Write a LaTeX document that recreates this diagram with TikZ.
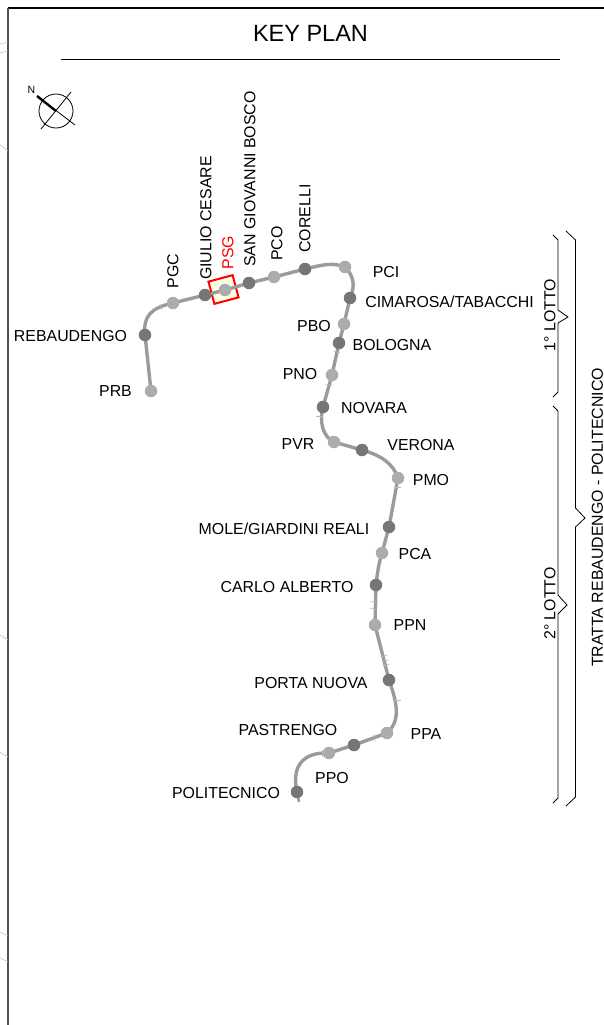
\documentclass[tikz,border=0pt]{standalone}
\usepackage{fontspec}
\setmainfont{Liberation Sans}
\pgfdeclarelayer{boxlayer}
\pgfdeclarelayer{linelayer}
\pgfsetlayers{boxlayer,linelayer,main}
\definecolor{lightst}{RGB}{172,172,172}
\definecolor{darkst}{RGB}{118,118,118}
\definecolor{route}{RGB}{155,155,155}
\definecolor{faint}{RGB}{195,195,195}
\definecolor{tickc}{RGB}{185,185,185}
\definecolor{boxfill}{RGB}{255,255,232}
\tikzset{
  x=1pt,y=-1pt,
  lst/.style={circle,fill=lightst,minimum size=12.5pt,inner sep=0pt},
  dst/.style={circle,fill=darkst,minimum size=12.5pt,inner sep=0pt},
  lab/.style={font=\fontsize{15.9}{16}\selectfont,inner sep=0pt,text=black},
  hlab/.style={lab,yshift=-0.5pt},
  vlab/.style={lab,rotate=90},
  routeline/.style={draw=route,line width=3.4pt},
  tick/.style={draw=tickc,line width=0.6pt},
  brace/.style={draw=black,line width=0.8pt},
  frame/.style={line width=1.3pt},
  faintline/.style={draw=faint,line width=0.6pt}
}
\begin{document}
\begin{tikzpicture}
\useasboundingbox (0,0) rectangle (604,1025);
% frame
\coordinate (ftl) at (8,8);
\coordinate (ftr) at (604,8);
\coordinate (fbl) at (8,1025);
\draw[frame,black] (ftl) -- (ftr);
\draw[frame,draw={rgb,255:red,80;green,80;blue,80},line width=1.5pt] (ftl) -- (fbl);
\foreach \a/\b/\c/\d in {0/44/8/42,0/53/8/51,0/145/8/151,0/635/8/640,0/752/8/757,0/932/8/936,0/958/8/962}
  \draw[faintline] (\a,\b) -- (\c,\d);
% title
\node[font=\fontsize{23.5}{24}\selectfont,inner sep=0pt] (title) at (310.5,33.5) {KEY PLAN};
\coordinate (ula) at (61,60);
\coordinate (ulb) at (560,60);
\draw[line width=1pt] (ula) -- (ulb);
% north symbol
\node[circle,draw,line width=0.8pt,minimum size=34pt,inner sep=0pt] (ns) at (56,111) {};
\coordinate (na) at (41,129);
\coordinate (nb) at (71,92);
\coordinate (nc) at (37,96);
\coordinate (nd) at (75,125);
\draw[line width=0.8pt] (na) -- (nb);
\draw[line width=0.8pt] (nc) -- (nd);
\draw[line width=2.4pt] (nc) -- (ns.center);
\node[font=\fontsize{10.5}{11}\selectfont,inner sep=0pt] (nn) at (31.5,90) {N};
% stations
\node[lst] (prb) at (151,391) {};
\node[dst] (reb) at (145,335) {};
\node[lst] (pgc) at (173,303) {};
\node[dst] (gce) at (205,295) {};
\node[lst] (psg) at (225,290) {};
\node[dst] (sgb) at (249,283) {};
\node[lst] (pco) at (274,277) {};
\node[dst] (cor) at (305,269) {};
\node[lst] (pci) at (345,267) {};
\node[dst] (cim) at (350,298) {};
\node[lst] (pbo) at (344,324) {};
\node[dst] (bol) at (339,343) {};
\node[lst] (pno) at (332,375) {};
\node[dst] (nov) at (323,407) {};
\node[lst] (pvr) at (334,442) {};
\node[dst] (ver) at (362,450) {};
\node[lst] (pmo) at (398,478) {};
\node[dst] (mol) at (389,527) {};
\node[lst] (pca) at (382,553) {};
\node[dst] (cal) at (376,585) {};
\node[lst] (ppn) at (375,625) {};
\node[dst] (pnu) at (389,680) {};
\node[lst] (ppa) at (387,733) {};
\node[dst] (pas) at (354,745) {};
\node[lst] (ppo) at (329,753) {};
\node[dst] (pol) at (297,792) {};
\coordinate (rend) at (299,802);
% highlight box
\begin{pgfonlayer}{boxlayer}
\node[rotate=15,draw=red,fill=boxfill,line width=2pt,minimum width=25pt,minimum height=23pt,inner sep=0pt] (hl) at (223.5,289.5) {};
\end{pgfonlayer}
% route
\begin{pgfonlayer}{linelayer}
\draw[routeline] (prb.center) -- (reb.center);
\draw[routeline] (reb.center) .. controls (143,317) and (150,308) .. (pgc.center);
\draw[routeline] (pgc.center) -- (gce.center) -- (psg.center) -- (sgb.center) -- (pco.center) -- (cor.center);
\draw[routeline] (cor.center) .. controls (322,265) and (332,262) .. (pci.center);
\draw[routeline] (pci.center) .. controls (353,275) and (356,285) .. (cim.center);
\draw[routeline] (cim.center) -- (pbo.center) -- (bol.center) -- (pno.center) -- (nov.center);
\draw[routeline] (nov.center) .. controls (319,422) and (323,437) .. (pvr.center);
\draw[routeline] (pvr.center) -- (ver.center);
\draw[routeline] (ver.center) .. controls (380,455) and (393,463) .. (pmo.center);
\draw[routeline] (pmo.center) -- (mol.center) -- (pca.center);
\draw[routeline] (pca.center) .. controls (379,562) and (377,575) .. (cal.center);
\draw[routeline] (cal.center) -- (ppn.center);
\draw[routeline] (ppn.center) -- (pnu.center);
\draw[routeline] (pnu.center) .. controls (396,700) and (402,720) .. (ppa.center);
\draw[routeline] (ppa.center) -- (pas.center) -- (ppo.center);
\draw[routeline] (ppo.center) .. controls (310,752) and (290,760) .. (pol.center);
\draw[routeline,line width=2.4pt] (pol.center) -- (rend);
% ticks
\foreach \x/\y/\u/\v in {161/307/1/3,
  374/602/3.5/0.5,373.5/609/3.5/0.5,
  384/656/3.5/-1,385/661/3.5/-1,386/665/3.5/-1,
  397/700/3.5/0,374/738/1/3.5,322/753/0/3.5,
  319/416/3.5/0,397/487/3.5/0,
  337/352/3.5/1,329/385/3.5/1}
  \draw[tick] (\x-\u,\y-\v) -- (\x+\u,\y+\v);
\end{pgfonlayer}
% horizontal labels
\node[hlab] (treb) at (70.5,335.5) {REBAUDENGO};
\node[hlab] (tprb) at (115.5,391) {PRB};
\node[hlab] (tpci) at (386,271.5) {PCI};
\node[hlab] (tcim) at (449.5,301) {CIMAROSA/TABACCHI};
\node[hlab] (tpbo) at (314,326) {PBO};
\node[hlab] (tbol) at (392,345) {BOLOGNA};
\node[hlab] (tpno) at (300,374) {PNO};
\node[hlab] (tnov) at (374,408) {NOVARA};
\node[hlab] (tpvr) at (298,444) {PVR};
\node[hlab] (tver) at (421,445) {VERONA};
\node[hlab] (tpmo) at (431,480) {PMO};
\node[hlab] (tmol) at (284,528) {MOLE/GIARDINI REALI};
\node[hlab] (tpca) at (415,554) {PCA};
\node[hlab] (tcal) at (287,587) {CARLO ALBERTO};
\node[hlab] (tppn) at (410,625) {PPN};
\node[hlab] (tpnu) at (311,683) {PORTA NUOVA};
\node[hlab] (tpas) at (288,730) {PASTRENGO};
\node[hlab] (tppa) at (426,734) {PPA};
\node[hlab] (tppo) at (332,778) {PPO};
\node[hlab] (tpol) at (226,793) {POLITECNICO};
% vertical labels
\node[vlab] (tpgc) at (173,271) {PGC};
\node[vlab] (tgce) at (206,218) {GIULIO CESARE};
\node[vlab,text=red] (tpsg) at (228,252.5) {PSG};
\node[vlab] (tsgb) at (250,179) {SAN GIOVANNI BOSCO};
\node[vlab] (tpco) at (277,243.5) {PCO};
\node[vlab] (tcor) at (305,218.5) {CORELLI};
\node[vlab] (tl1) at (550,315) {1° LOTTO};
\node[vlab] (tl2) at (550,603.5) {2° LOTTO};
\node[vlab] (ttr) at (597.5,517.5) {TRATTA REBAUDENGO - POLITECNICO};
% braces
\coordinate (b1a) at (553,235);
\coordinate (b1b) at (558,240);
\coordinate (b1c) at (558,310);
\coordinate (b1d) at (568,317);
\coordinate (b1e) at (558,323);
\coordinate (b1f) at (558,392);
\coordinate (b1g) at (553,397);
\draw[brace] (b1a) -- (b1b) -- (b1c) -- (b1d) -- (b1e) -- (b1f) -- (b1g);
\coordinate (b2a) at (553,406);
\coordinate (b2b) at (558,411);
\coordinate (b2c) at (558,595);
\coordinate (b2d) at (567,605);
\coordinate (b2e) at (558,614);
\coordinate (b2f) at (558,798);
\coordinate (b2g) at (553,803);
\draw[brace] (b2a) -- (b2b) -- (b2c) -- (b2d) -- (b2e) -- (b2f) -- (b2g);
\coordinate (b3a) at (566,231);
\coordinate (b3b) at (575.5,240);
\coordinate (b3c) at (575.5,508);
\coordinate (b3d) at (585,518);
\coordinate (b3e) at (575.5,527);
\coordinate (b3f) at (575.5,797);
\coordinate (b3g) at (566,806);
\draw[brace] (b3a) -- (b3b) -- (b3c) -- (b3d) -- (b3e) -- (b3f) -- (b3g);
\end{tikzpicture}
\end{document}
